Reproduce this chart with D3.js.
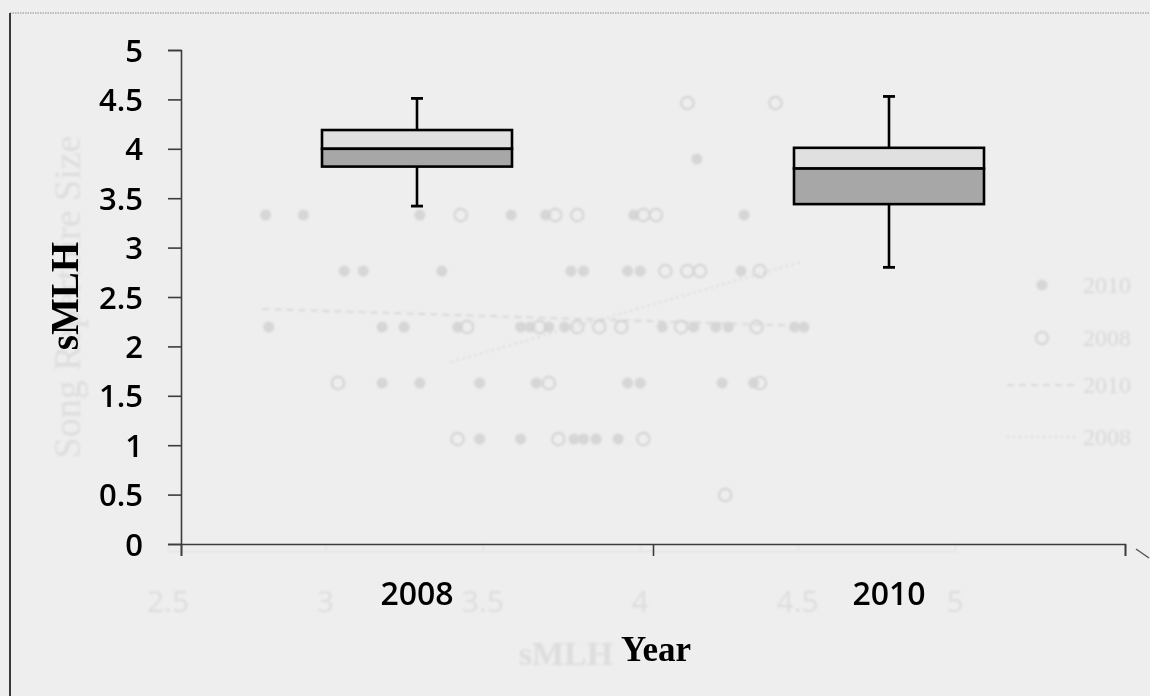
<!DOCTYPE html>
<html>
<head>
<meta charset="utf-8">
<script src="https://cdn.jsdelivr.net/npm/d3@7"></script>
<style>
  html, body { margin: 0; padding: 0; background: #eeeeee; }
  svg { display: block; }
</style>
</head>
<body>
<svg id="chart" width="1150" height="696"></svg>
<script>
// ---- Box plot data: sMLH by year ----
const categories = ["2008", "2010"];
const boxMin    = [3.42, 2.80];
const boxQ1     = [3.82, 3.44];
const boxMedian = [4.00, 3.80];
const boxQ3     = [4.19, 4.01];
const boxMax    = [4.51, 4.53];
const yTickValues = [0, 0.5, 1, 1.5, 2, 2.5, 3, 3.5, 4, 4.5, 5];

// ---- Faint print-through of the facing page: repertoire size vs sMLH ----
const ghostXTicks = [2.5, 3, 3.5, 4, 4.5, 5];
const ghost2010Rows = [
  { size: 13, mlh: [4.18] },
  { size: 12, mlh: [2.81, 2.93, 3.30, 3.59, 3.70, 3.98, 4.33] },
  { size: 11, mlh: [3.06, 3.12, 3.37, 3.78, 3.82, 3.96, 4.00, 4.32] },
  { size: 10, mlh: [2.82, 3.18, 3.25, 3.42, 3.62, 3.65, 3.71, 3.76, 4.07, 4.17, 4.24, 4.28, 4.49, 4.52] },
  { size: 9,  mlh: [3.18, 3.30, 3.49, 3.67, 3.96, 4.00, 4.26, 4.36] },
  { size: 8,  mlh: [3.49, 3.62, 3.79, 3.82, 3.86, 3.93] }
];
const ghost2008Rows = [
  { size: 14, mlh: [4.15, 4.43] },
  { size: 12, mlh: [3.43, 3.73, 3.80, 4.01, 4.05] },
  { size: 11, mlh: [4.08, 4.15, 4.19, 4.38] },
  { size: 10, mlh: [3.45, 3.68, 3.80, 3.87, 3.94, 4.13, 4.37] },
  { size: 9,  mlh: [3.04, 3.71, 4.38] },
  { size: 8,  mlh: [3.42, 3.74, 4.01] },
  { size: 7,  mlh: [4.27] }
];
const ghostTrend2010 = [[2.80, 10.32], [4.52, 10.02]];
const ghostTrend2008 = [[3.40, 9.375], [4.51, 11.16]];
const ghostLegend = ["2010", "2008", "2010", "2008"];

const svg = d3.select("#chart");
const W = 1150, H = 696;

svg.append("rect").attr("width", W).attr("height", H).attr("fill", "#eeeeee");

const defs = svg.append("defs");
defs.append("filter").attr("id", "soft")
  .append("feGaussianBlur").attr("stdDeviation", 1.2);

// ---------- faint back-page layer ----------
const gx = d3.scaleLinear().domain([2.5, 5]).range([168, 955]);
const gy = d3.scaleLinear().domain([7, 15]).range([495, 47]);
const ghostDot = "#d6d6d6";
const ghostRing = "#d2d2d2";
const ghostText = "#dddddd";
const ghost = svg.append("g").attr("filter", "url(#soft)");

// faint axis of the back-page plot
ghost.append("g")
  .attr("transform", "translate(0,551)")
  .call(d3.axisBottom(gx).tickValues(ghostXTicks).tickSize(-6).tickFormat(""))
  .call(g => g.select(".domain").attr("stroke", "#e0e0e0"))
  .call(g => g.selectAll(".tick line").attr("stroke", "#e0e0e0"));

ghost.append("g").selectAll("text").data(ghostXTicks).join("text")
  .attr("x", d => gx(d)).attr("y", 612)
  .attr("text-anchor", "middle")
  .attr("font-family", "Open Sans, sans-serif")
  .attr("font-size", 30)
  .attr("fill", ghostText)
  .text(d => d);

ghost.append("text")
  .attr("transform", "translate(80,297) rotate(-90)")
  .attr("text-anchor", "middle")
  .attr("font-family", "Liberation Serif, serif")
  .attr("font-size", 38)
  .attr("fill", ghostText)
  .text("Song Repertoire Size");

ghost.append("text")
  .attr("x", 566).attr("y", 665)
  .attr("text-anchor", "middle")
  .attr("font-family", "Liberation Serif, serif")
  .attr("font-weight", "bold")
  .attr("font-size", 34)
  .attr("fill", ghostText)
  .text("sMLH");

const trendLine = d3.line().x(d => gx(d[0])).y(d => gy(d[1]));
ghost.append("path").datum(ghostTrend2010)
  .attr("d", trendLine).attr("fill", "none")
  .attr("stroke", "#d4d4d4").attr("stroke-width", 1.6)
  .attr("stroke-dasharray", "7,5");
ghost.append("path").datum(ghostTrend2008)
  .attr("d", trendLine).attr("fill", "none")
  .attr("stroke", "#d4d4d4").attr("stroke-width", 1.6)
  .attr("stroke-dasharray", "2,4");

const filledPts = ghost2010Rows.flatMap(r => r.mlh.map(m => [m, r.size]));
const openPts = ghost2008Rows.flatMap(r => r.mlh.map(m => [m, r.size]));

ghost.append("g").selectAll("circle").data(filledPts).join("circle")
  .attr("cx", d => gx(d[0])).attr("cy", d => gy(d[1])).attr("r", 5.5)
  .attr("fill", ghostDot);
ghost.append("g").selectAll("circle").data(openPts).join("circle")
  .attr("cx", d => gx(d[0])).attr("cy", d => gy(d[1])).attr("r", 6.2)
  .attr("fill", "none").attr("stroke", ghostRing).attr("stroke-width", 2);

// back-page legend
const legendY = [285, 338, 385, 437];
const lg = ghost.append("g");
lg.append("circle").attr("cx", 1042).attr("cy", legendY[0]).attr("r", 5.5).attr("fill", ghostDot);
lg.append("circle").attr("cx", 1042).attr("cy", legendY[1]).attr("r", 6).attr("fill", "none")
  .attr("stroke", ghostRing).attr("stroke-width", 2);
lg.append("line").attr("x1", 1007).attr("x2", 1078).attr("y1", legendY[2]).attr("y2", legendY[2])
  .attr("stroke", "#d4d4d4").attr("stroke-width", 1.6).attr("stroke-dasharray", "7,5");
lg.append("line").attr("x1", 1007).attr("x2", 1078).attr("y1", legendY[3]).attr("y2", legendY[3])
  .attr("stroke", "#d4d4d4").attr("stroke-width", 1.6).attr("stroke-dasharray", "2,4");
lg.selectAll("text").data(ghostLegend).join("text")
  .attr("x", 1083).attr("y", (d, i) => legendY[i] + 8)
  .attr("font-family", "Liberation Serif, serif")
  .attr("font-size", 24)
  .attr("fill", "#d8d8d8")
  .text(d => d);

// ---------- frame ----------
svg.append("line").attr("x1", 10).attr("x2", W).attr("y1", 13).attr("y2", 13)
  .attr("stroke", "#8a8a8a").attr("stroke-width", 1.2).attr("stroke-dasharray", "1.5,1");
svg.append("line").attr("x1", 10).attr("x2", 10).attr("y1", 13).attr("y2", H)
  .attr("stroke", "#3a3a3a").attr("stroke-width", 2);
svg.append("path").attr("d", "M1136,549 L1149,558")
  .attr("stroke", "#555").attr("stroke-width", 1.5).attr("fill", "none");

// ---------- main box plot ----------
const x0 = 181, x1 = 1125;
const y = d3.scaleLinear().domain([0, 5]).range([544, 50]);
const xBand = d3.scaleBand().domain(categories).range([x0, x1]).paddingInner(0).paddingOuter(0);
const xEdge = d3.scaleLinear().domain([0, categories.length]).range([x0, x1]);

const axisColor = "#3c3c3c";

// y axis with ticks and labels
const yAxisG = svg.append("g")
  .attr("transform", `translate(${x0},0)`)
  .call(d3.axisLeft(y).tickValues(yTickValues).tickSize(13).tickFormat(d3.format("")));
yAxisG.select(".domain").attr("stroke", axisColor).attr("stroke-width", 1.6);
yAxisG.selectAll(".tick line").attr("stroke", axisColor).attr("stroke-width", 1.6);
yAxisG.selectAll(".tick text")
  .attr("x", -38)
  .attr("dy", "0.36em")
  .attr("fill", "#000")
  .attr("font-family", "Open Sans, sans-serif")
  .attr("font-weight", 600)
  .attr("font-size", 31);

// x axis boundaries between categories
const xAxisG = svg.append("g")
  .attr("transform", `translate(0,${y(0)})`)
  .call(d3.axisBottom(xEdge).tickValues([0, 1, 2]).tickSize(12).tickFormat(""));
xAxisG.select(".domain").attr("stroke", axisColor).attr("stroke-width", 1.6);
xAxisG.selectAll(".tick line").attr("stroke", axisColor).attr("stroke-width", 1.6);

// category labels
const catG = svg.append("g")
  .attr("transform", `translate(0,${y(0)})`)
  .call(d3.axisBottom(xBand).tickSize(0).tickPadding(0));
catG.select(".domain").remove();
catG.selectAll(".tick text")
  .attr("y", 61).attr("dy", 0)
  .attr("fill", "#000")
  .attr("font-family", "Open Sans, sans-serif")
  .attr("font-weight", 600)
  .attr("font-size", 32);

// axis titles
svg.append("text")
  .attr("transform", "translate(78,296) rotate(-90)")
  .attr("text-anchor", "middle")
  .attr("font-family", "Liberation Serif, serif")
  .attr("font-weight", "bold")
  .attr("font-size", 39)
  .attr("fill", "#000")
  .text("sMLH");
svg.append("text")
  .attr("x", 656).attr("y", 661)
  .attr("text-anchor", "middle")
  .attr("font-family", "Liberation Serif, serif")
  .attr("font-weight", "bold")
  .attr("font-size", 35)
  .attr("fill", "#000")
  .text("Year");

// boxes
const boxData = categories.map((c, i) => ({
  cat: c, min: boxMin[i], q1: boxQ1[i], med: boxMedian[i], q3: boxQ3[i], max: boxMax[i]
}));
const boxW = 190, capW = 12;
const boxes = svg.append("g").selectAll("g").data(boxData).join("g")
  .attr("transform", d => `translate(${xBand(d.cat) + xBand.bandwidth() / 2},0)`);

// whiskers
boxes.append("line").attr("x1", 0).attr("x2", 0)
  .attr("y1", d => y(d.max)).attr("y2", d => y(d.q3))
  .attr("stroke", "#000").attr("stroke-width", 2.6);
boxes.append("line").attr("x1", 0).attr("x2", 0)
  .attr("y1", d => y(d.q1)).attr("y2", d => y(d.min))
  .attr("stroke", "#000").attr("stroke-width", 2.6);
boxes.append("line").attr("x1", -capW / 2).attr("x2", capW / 2)
  .attr("y1", d => y(d.max)).attr("y2", d => y(d.max))
  .attr("stroke", "#000").attr("stroke-width", 2.8);
boxes.append("line").attr("x1", -capW / 2).attr("x2", capW / 2)
  .attr("y1", d => y(d.min)).attr("y2", d => y(d.min))
  .attr("stroke", "#000").attr("stroke-width", 2.8);

// upper (median to Q3) and lower (Q1 to median) sections
boxes.append("rect")
  .attr("x", -boxW / 2).attr("width", boxW)
  .attr("y", d => y(d.q3)).attr("height", d => y(d.med) - y(d.q3))
  .attr("fill", "#e0e0e0").attr("stroke", "#000").attr("stroke-width", 2.6);
boxes.append("rect")
  .attr("x", -boxW / 2).attr("width", boxW)
  .attr("y", d => y(d.med)).attr("height", d => y(d.q1) - y(d.med))
  .attr("fill", "#a7a7a7").attr("stroke", "#000").attr("stroke-width", 2.6);
</script>
</body>
</html>
